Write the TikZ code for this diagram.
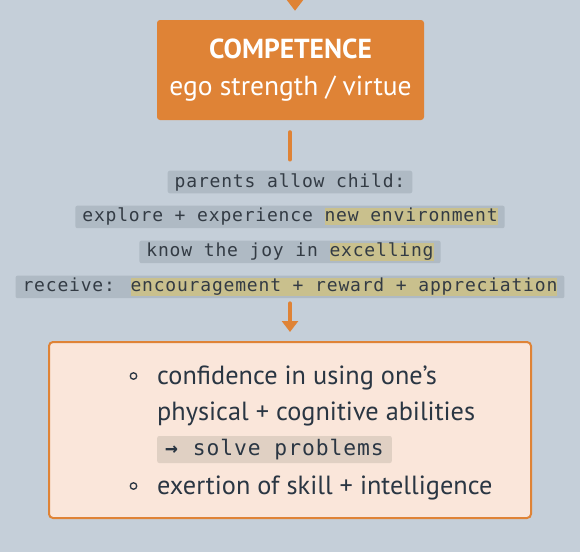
\documentclass[tikz,border=0pt]{standalone}
\usepackage{fontspec}
\setmainfont{PT Sans}
\newfontfamily\codefont[LetterSpace=4.5]{DejaVu Sans Mono}
\usetikzlibrary{arrows.meta,positioning}

\definecolor{slate}{HTML}{C5CFD9}
\definecolor{tangerine}{HTML}{DF8336}
\definecolor{codegray}{HTML}{AFBAC4}
\definecolor{khaki}{HTML}{C9C08D}
\definecolor{peach}{HTML}{FAE6DA}
\definecolor{solvetan}{HTML}{E0D0C3}
\definecolor{ink}{HTML}{2A3643}
\definecolor{codeink}{HTML}{333B44}

\newcommand{\codestrut}{\rule[-3.5pt]{0pt}{17pt}}
\newcommand{\hilite}[1]{{\setlength{\fboxsep}{0pt}\colorbox{khaki}{\codestrut#1}}}

\tikzstyle{competence}=[
    rounded corners=3pt,
    fill=tangerine,
    text=white,
    minimum width=267pt,
    minimum height=100pt,
    align=center,
    font=\fontsize{27.5}{37}\selectfont
]
\tikzstyle{codeline}=[
    rounded corners=2pt,
    fill=codegray,
    text=codeink,
    inner xsep=7pt,
    inner ysep=2.5pt,
    font=\codefont\fontsize{18}{20}\selectfont
]
\tikzstyle{outcome}=[
    rounded corners=4pt,
    draw=tangerine,
    line width=2pt,
    fill=peach,
    minimum width=482pt,
    minimum height=176pt
]
\tikzstyle{point}=[
    anchor=base west,
    inner sep=0pt,
    text=ink,
    font=\fontsize{26.3}{30}\selectfont
]
\tikzstyle{bullet}=[
    circle,
    draw=ink,
    line width=1.3pt,
    inner sep=0pt,
    minimum size=6.5pt
]
\tikzstyle{solve}=[
    anchor=west,
    rounded corners=2pt,
    fill=solvetan,
    text=ink,
    inner xsep=8pt,
    inner ysep=0pt,
    minimum height=27pt,
    font=\codefont\fontsize{21.3}{22}\selectfont
]
\tikzstyle{link}=[
    draw=tangerine,
    line width=4pt,
    line cap=round
]
\tikzstyle{flow}=[
    link,
    -{Triangle[width=16pt,length=11pt]}
]

\begin{document}
\begin{tikzpicture}[x=1pt, y=-1pt, node distance=12pt]
\fill[slate] (0,0) rectangle (580,552);
\useasboundingbox (0,0) rectangle (580,552);

\node[competence] (comp) at (290.5,70) {\textbf{COMPETENCE}\\ego strength / virtue};
\coordinate (enter) at (295,-20);

\node[codeline] (l1) at (290,182) {\codestrut parents allow child:};
\node[codeline, below=of l1] (l2) {\codestrut explore + experience \hilite{new environment}};
\node[codeline, below=of l2] (l3) {\codestrut know the joy in \hilite{excelling}};
\node[codeline, below=of l3] (l4) {\codestrut receive: \hilite{encouragement + reward + appreciation}};

\node[outcome] (out) at (290,430) {};
\node[bullet] (b1) at (133.5,376) {};
\node[point] (p1) at (157,384) {confidence in using one’s};
\node[point] (p2) at (157,420) {physical + cognitive abilities};
\node[solve] (s1) at (157,449.5) {\textbf{→} solve problems};
\node[bullet] (b2) at (133.5,486) {};
\node[point] (p3) at (157,494) {exertion of skill + intelligence};

\draw[flow, shorten >=9pt] (enter) -- (enter |- comp.north);
\draw[link, shorten <=12pt, shorten >=11pt] (comp.south -| l1) -- (l1.north);
\draw[flow, shorten <=5pt, shorten >=9pt] (l4.south) -- (out.north);
\end{tikzpicture}
\end{document}
